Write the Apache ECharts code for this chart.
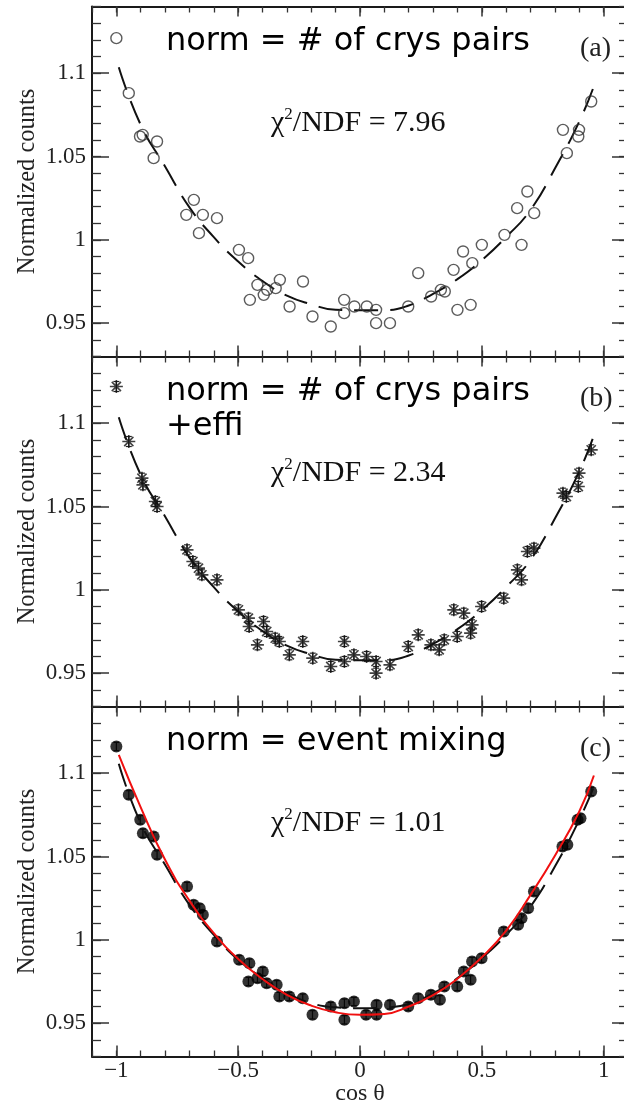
<!DOCTYPE html>
<html><head><meta charset="utf-8">
<script src="https://cdn.jsdelivr.net/npm/echarts@6/dist/echarts.min.js"></script>
<style>html,body{margin:0;padding:0;background:#fff}#c{width:624px;height:1100px}</style>
</head><body><div id="c"></div>
<script>
// ---------- tick labels / texts ----------
const xMajorTicks = [-1, -0.5, 0, 0.5, 1];
const yMajorTicks = [0.95, 1, 1.05, 1.1];
const panelTags = ['(a)', '(b)', '(c)'];
const normLabels = ['norm = # of crys pairs', 'norm = # of crys pairs\n+effi', 'norm = event mixing'];
const chiValues = ['7.96', '2.34', '1.01'];
const xAxisName = 'cos θ';
const yAxisName = 'Normalized counts';

// ---------- panel (a): open circles ----------
const xA = [-1.0,-0.949,-0.903,-0.892,-0.847,-0.833,-0.713,-0.682,-0.661,-0.645,-0.587,-0.497,-0.459,-0.452,-0.421,-0.395,-0.381,-0.346,-0.329,-0.289,-0.234,-0.195,-0.12,-0.065,-0.065,-0.023,0.028,0.066,0.066,0.123,0.198,0.239,0.292,0.332,0.348,0.384,0.40,0.423,0.454,0.461,0.50,0.593,0.645,0.663,0.687,0.715,0.833,0.849,0.896,0.899,0.949];
const yA = [1.121,1.088,1.062,1.063,1.049,1.059,1.015,1.024,1.004,1.015,1.013,0.994,0.989,0.964,0.973,0.967,0.970,0.971,0.976,0.960,0.975,0.954,0.948,0.964,0.956,0.960,0.960,0.958,0.950,0.950,0.960,0.980,0.966,0.970,0.969,0.982,0.958,0.993,0.961,0.986,0.997,1.003,1.019,0.997,1.029,1.016,1.066,1.052,1.062,1.066,1.083];

// ---------- panel (b): asterisks ----------
const xB = [-1.0,-0.949,-0.895,-0.891,-0.84,-0.833,-0.71,-0.686,-0.663,-0.649,-0.587,-0.499,-0.458,-0.455,-0.421,-0.396,-0.383,-0.348,-0.331,-0.29,-0.235,-0.194,-0.12,-0.064,-0.064,-0.025,0.027,0.066,0.066,0.123,0.198,0.239,0.291,0.325,0.346,0.385,0.399,0.426,0.454,0.46,0.499,0.59,0.646,0.663,0.687,0.714,0.833,0.847,0.896,0.899,0.949];
const yB = [1.122,1.089,1.067,1.063,1.053,1.050,1.024,1.017,1.013,1.009,1.006,0.988,0.983,0.978,0.967,0.981,0.975,0.971,0.969,0.961,0.969,0.959,0.954,0.969,0.957,0.961,0.960,0.957,0.950,0.955,0.966,0.973,0.967,0.964,0.970,0.988,0.972,0.986,0.974,0.979,0.990,0.995,1.012,1.006,1.023,1.025,1.058,1.056,1.062,1.070,1.084];
const errB = 0.003;

// ---------- panel (c): filled circles ----------
const xC = [-1.0,-0.949,-0.902,-0.891,-0.847,-0.833,-0.71,-0.683,-0.658,-0.645,-0.587,-0.496,-0.458,-0.454,-0.421,-0.399,-0.383,-0.342,-0.331,-0.29,-0.235,-0.195,-0.12,-0.064,-0.064,-0.025,0.025,0.068,0.068,0.123,0.198,0.239,0.291,0.328,0.346,0.399,0.426,0.454,0.46,0.499,0.59,0.649,0.663,0.69,0.714,0.831,0.851,0.893,0.905,0.949];
const yC = [1.116,1.087,1.072,1.064,1.062,1.051,1.032,1.021,1.019,1.015,0.999,0.988,0.975,0.986,0.977,0.981,0.974,0.973,0.966,0.966,0.965,0.955,0.960,0.962,0.952,0.963,0.955,0.961,0.955,0.961,0.960,0.965,0.967,0.964,0.972,0.972,0.981,0.976,0.987,0.989,1.005,1.009,1.013,1.019,1.029,1.056,1.057,1.072,1.073,1.089];
const errC = 0.0025;

// ---------- fit curves ----------
const fitX     = [-0.99,-0.9,-0.8,-0.7,-0.6,-0.5,-0.4,-0.3,-0.2,-0.1,0,0.1,0.2,0.3,0.4,0.5,0.6,0.7,0.8,0.9,0.96];
const fitA     = [1.1036,1.069,1.044,1.0195,1.0016,0.987,0.9753,0.9665,0.9613,0.958,0.9577,0.9578,0.9606,0.9676,0.9764,0.9878,1.0017,1.018,1.0428,1.071,1.0922];
const fitB     = [1.1036,1.069,1.044,1.0195,1.0016,0.987,0.9753,0.9665,0.9613,0.958,0.9577,0.9578,0.9606,0.9676,0.9764,0.9878,1.0017,1.018,1.0428,1.071,1.0926];
const fitCblk  = [1.1056,1.070,1.045,1.021,1.003,0.988,0.977,0.968,0.962,0.9595,0.959,0.9593,0.9615,0.968,0.977,0.989,1.003,1.020,1.044,1.072,1.092];
const fitCred  = [1.111,1.0795,1.048,1.0235,1.004,0.9885,0.9765,0.967,0.9605,0.9565,0.955,0.9555,0.960,0.9668,0.9767,0.9895,1.0055,1.027,1.0505,1.077,1.0986];

// ---------- layout ----------
const SERIF = 'Liberation Serif';
const SANS = 'DejaVu Sans';
const panelTop = [6.5, 356.5, 706.5];
const panelH = 350;
const gridLeft = 92, gridW = 536;
const X_MIN = -1.1, X_MAX = 1.1, Y_MIN = 0.93, Y_MAX = 1.14;

const fmtX = v => (v < 0 ? '\u2212' + Math.abs(v) : String(v));
const lineCol = '#1a1a1a', tickCol = '#333';
const txt = { fontFamily: SERIF, fontSize: 23, color: '#222' };

const grid = [], xAxis = [], yAxis = [];
for (let p = 0; p < 3; p++) {
  const last = p === 2;
  const gA = 2 * p, gB = 2 * p + 1;
  const g = { left: gridLeft, top: panelTop[p], width: gridW, height: panelH, containLabel: false, outerBoundsMode: 'none' };
  grid.push({ ...g });
  grid.push({ ...g });
  const axLine = { show: true, onZero: false, lineStyle: { color: lineCol, width: 2 } };
  // major x axes
  xAxis.push({ gridIndex: gA, type: 'value', position: 'bottom', min: X_MIN, max: X_MAX,
    axisLine: axLine, splitLine: { show: false },
    axisTick: { show: true, inside: true, length: 11, customValues: xMajorTicks, lineStyle: { color: tickCol, width: 1.5 } },
    axisLabel: { show: last, customValues: xMajorTicks, margin: 3, formatter: fmtX, ...txt },
    name: last ? xAxisName : '', nameLocation: 'middle', nameGap: 25, nameMoveOverlap: false,
    nameTextStyle: { ...txt, fontSize: 24 } });
  xAxis.push({ gridIndex: gA, type: 'value', position: 'top', min: X_MIN, max: X_MAX,
    axisLine: axLine, splitLine: { show: false },
    axisTick: { show: true, inside: true, length: 10, customValues: xMajorTicks, lineStyle: { color: tickCol, width: 1.5 } },
    axisLabel: { show: false } });
  // minor x axes
  for (const pos of ['bottom', 'top']) {
    xAxis.push({ gridIndex: gB, type: 'value', position: pos, min: X_MIN, max: X_MAX, interval: 0.1,
      axisLine: { show: false, onZero: false }, splitLine: { show: false },
      axisTick: { show: true, inside: true, length: 6, lineStyle: { color: tickCol, width: 1.3 } },
      axisLabel: { show: false } });
  }
  // major y axes
  yAxis.push({ gridIndex: gA, type: 'value', position: 'left', min: Y_MIN, max: Y_MAX,
    axisLine: axLine, splitLine: { show: false },
    axisTick: { show: true, inside: true, length: 17, customValues: yMajorTicks, lineStyle: { color: tickCol, width: 1.5 } },
    axisLabel: { show: true, customValues: yMajorTicks, margin: 6, ...txt },
    name: yAxisName, nameLocation: 'middle', nameGap: 52, nameMoveOverlap: false,
    nameTextStyle: { ...txt, fontSize: 24.5 } });
  yAxis.push({ gridIndex: gA, type: 'value', position: 'right', min: Y_MIN, max: Y_MAX,
    axisLine: axLine, splitLine: { show: false },
    axisTick: { show: true, inside: true, length: 16, customValues: yMajorTicks, lineStyle: { color: tickCol, width: 1.5 } },
    axisLabel: { show: false } });
  // minor y axes
  for (const pos of ['left', 'right']) {
    yAxis.push({ gridIndex: gB, type: 'value', position: pos, min: Y_MIN, max: Y_MAX, interval: 0.01,
      axisLine: { show: false, onZero: false }, splitLine: { show: false },
      axisTick: { show: true, inside: true, length: 9, lineStyle: { color: tickCol, width: 1.3 } },
      axisLabel: { show: false } });
  }
}

const zip = (xs, ys) => xs.map((x, i) => [x, ys[i]]);
const dashed = { color: '#111', width: 2, type: [24, 12] };

function errSeries(p, xs, ys, e) {
  return {
    type: 'custom', xAxisIndex: 4 * p, yAxisIndex: 4 * p, z: 3,
    data: xs.map((x, i) => [x, ys[i], e]),
    renderItem: (params, api) => {
      const x = api.value(0), y = api.value(1), d = api.value(2);
      const t = api.coord([x, y + d]), b = api.coord([x, y - d]);
      const w = 3, st = { stroke: '#222', lineWidth: 1.2 };
      return { type: 'group', children: [
        { type: 'line', shape: { x1: t[0], y1: t[1], x2: b[0], y2: b[1] }, style: st },
        { type: 'line', shape: { x1: t[0] - w, y1: t[1], x2: t[0] + w, y2: t[1] }, style: st },
        { type: 'line', shape: { x1: b[0] - w, y1: b[1], x2: b[0] + w, y2: b[1] }, style: st }
      ] };
    }
  };
}

const asterisk = 'path://M5 0L5 10M0 5L10 5M1.46 1.46L8.54 8.54M1.46 8.54L8.54 1.46';

const series = [
  // (a)
  { type: 'line', xAxisIndex: 0, yAxisIndex: 0, data: zip(fitX, fitA), smooth: true, symbol: 'none', lineStyle: dashed, z: 2 },
  { type: 'scatter', xAxisIndex: 0, yAxisIndex: 0, data: zip(xA, yA), symbol: 'circle', symbolSize: 11,
    itemStyle: { color: 'rgba(0,0,0,0)', borderColor: '#333', borderWidth: 1.4 }, z: 3 },
  // (b)
  { type: 'line', xAxisIndex: 4, yAxisIndex: 4, data: zip(fitX, fitB), smooth: true, symbol: 'none', lineStyle: dashed, z: 2 },
  errSeries(1, xB, yB, errB),
  { type: 'scatter', xAxisIndex: 4, yAxisIndex: 4, data: zip(xB, yB), symbol: asterisk, symbolSize: 13,
    itemStyle: { color: 'rgba(0,0,0,0)', borderColor: '#111', borderWidth: 1.6 }, z: 4 },
  // (c)
  errSeries(2, xC, yC, errC),
  { type: 'scatter', xAxisIndex: 8, yAxisIndex: 8, data: zip(xC, yC), symbol: 'circle', symbolSize: 12,
    itemStyle: { color: '#000' }, z: 3 },
  { type: 'line', xAxisIndex: 8, yAxisIndex: 8, data: zip(fitX, fitCblk), smooth: true, symbol: 'none', lineStyle: dashed, z: 4 },
  { type: 'line', xAxisIndex: 8, yAxisIndex: 8, data: zip(fitX, fitCred), smooth: true, symbol: 'none', lineStyle: { color: '#f01010', width: 2 }, z: 5 }
];

const graphic = [];
for (let p = 0; p < 3; p++) {
  graphic.push({ type: 'text', x: 166, y: panelTop[p] + 18, z: 10,
    style: { text: normLabels[p], fontFamily: SANS, fontSize: 32, lineHeight: 35, fill: '#000', verticalAlign: 'top' } });
  graphic.push({ type: 'text', x: 271, y: panelTop[p] + 99.5, z: 10,
    style: { text: '{n|\u03c7}{s|2}{n|/NDF = ' + chiValues[p] + '}', verticalAlign: 'top', fill: '#111',
      rich: { n: { fontFamily: SERIF, fontSize: 30, lineHeight: 34, fill: '#111' },
              s: { fontFamily: SERIF, fontSize: 17, lineHeight: 18, verticalAlign: 'top', fill: '#111' } } } });
  graphic.push({ type: 'text', x: 580, y: panelTop[p] + 28, z: 10,
    style: { text: panelTags[p], fontFamily: SERIF, fontSize: 28, fill: '#222', verticalAlign: 'top' } });
}

const chart = echarts.init(document.getElementById('c'), null, { renderer: 'canvas', width: 624, height: 1100 });
chart.setOption({ animation: false, backgroundColor: '#fff', grid, xAxis, yAxis, series, graphic });
</script>
</body></html>
